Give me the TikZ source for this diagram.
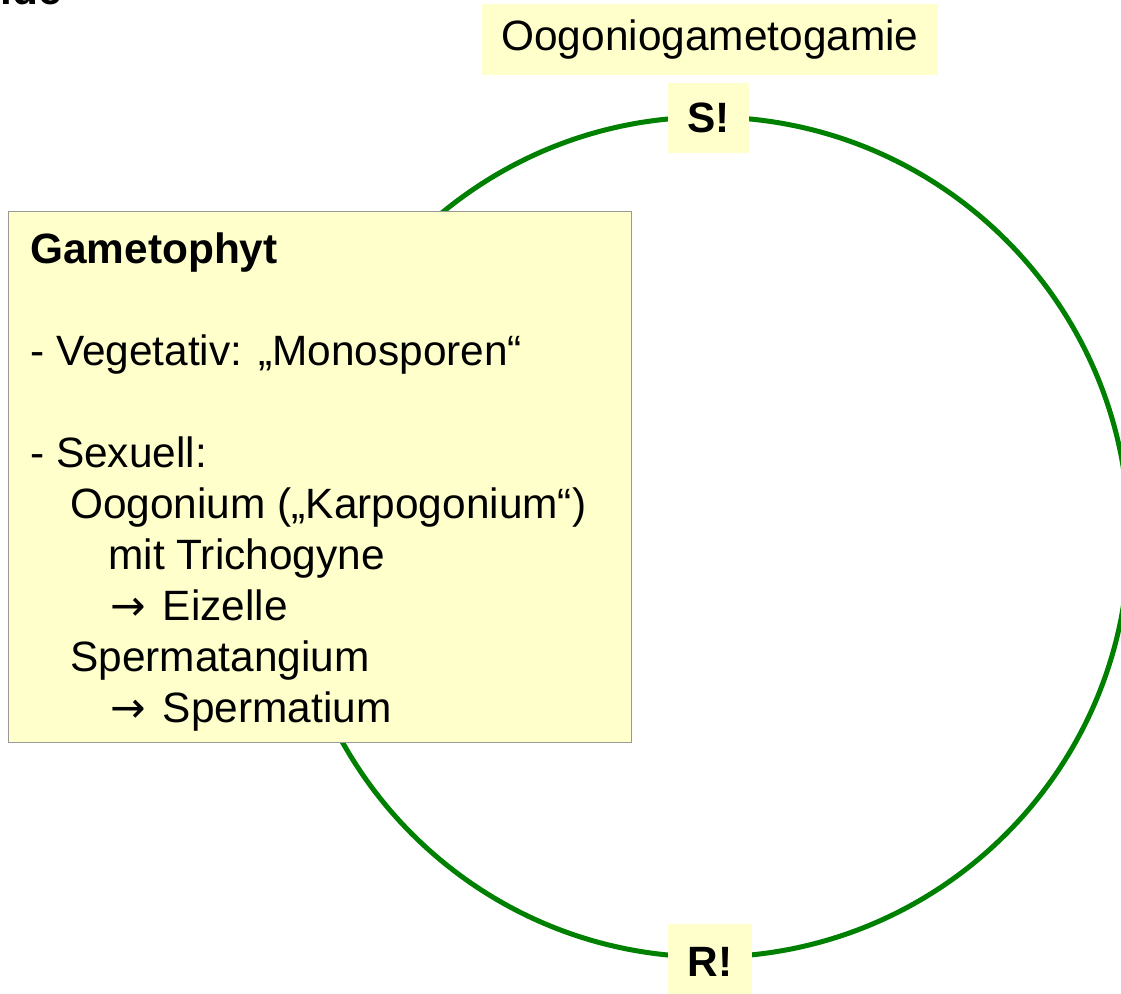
\documentclass[tikz,border=0pt]{standalone}
\usepackage{fontspec}
\setmainfont{Liberation Sans}
\newfontfamily\pfeil{DejaVu Sans}
\usetikzlibrary{positioning}

\definecolor{notiz}{RGB}{255,255,204}
\definecolor{zyklus}{RGB}{0,128,0}

\begin{document}
\begin{tikzpicture}[
  x=0.75pt, y=-0.75pt,
  ring/.style={draw=zyklus, line width=3.75pt},
  gbox/.style={fill=notiz, draw=gray!80, line width=0.6pt, inner sep=0pt},
  lbox/.style={fill=notiz, inner sep=0pt, align=center,
               font=\fontsize{31.8}{38.25}\selectfont},
  sbox/.style={fill=notiz, inner sep=0pt, align=center,
               font=\fontsize{31.8}{38.25}\selectfont\bfseries},
  zeile/.style={anchor=base west, inner sep=0pt,
                font=\fontsize{31.8}{38.25}\selectfont},
]
  \useasboundingbox (0,0) rectangle (1121,993);
  \clip (0,0) rectangle (1121,993);

  % Titelrest oben links
  \node[zeile, anchor=base east, font=\fontsize{31.8}{38.25}\selectfont\bfseries] (titel) at (62,4) {oide};

  % Lebenszyklus
  \draw[ring] (709,537) circle[radius=420];

  % Kernphasen
  \node[lbox, minimum width=342pt, minimum height=53.25pt] (oogam) at (710,39.5) {Oogoniogametogamie};
  \node[sbox, minimum width=60.75pt, minimum height=52.5pt] (sphase) at (708.5,118) {S!};
  \node[sbox, minimum width=63pt, minimum height=57pt] (rphase) at (710,962) {R!};

  % Gametophyt
  \node[gbox, anchor=north west, minimum width=467.25pt, minimum height=398.25pt] (gam) at (8,211) {};
  \node[zeile, font=\fontsize{31.8}{38.25}\selectfont\bfseries] (g1) at (30,263) {Gametophyt};
  \node[zeile] (g2) at (30,365) {- Vegetativ: „Monosporen“};
  \node[zeile] (g3) at (30,467) {- Sexuell:};
  \node[zeile] (g4) at (70,518) {Oogonium („Karpogonium“)};
  \node[zeile] (g5) at (108,569) {mit Trichogyne};
  \node[zeile] (g6) at (110,620) {{\pfeil →}\hspace{4pt} Eizelle};
  \node[zeile] (g7) at (70,671) {Spermatangium};
  \node[zeile] (g8) at (110,722) {{\pfeil →}\hspace{4pt} Spermatium};

\end{tikzpicture}
\end{document}
